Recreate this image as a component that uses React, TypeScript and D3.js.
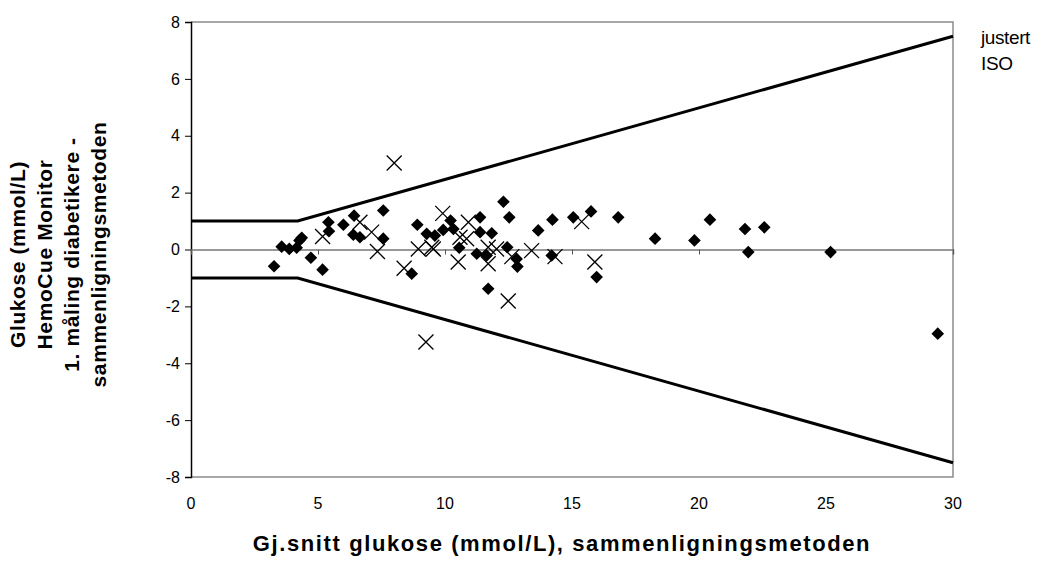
import React, { useEffect, useRef } from 'react';
import * as d3 from 'd3';

// diamonds: 1. måling diabetikere
const diaX = [3.27, 3.57, 3.87, 4.16, 4.27, 4.36, 4.72, 5.18, 5.41, 5.43, 6.0, 6.42, 6.39, 6.65, 7.57, 7.57, 8.69, 8.91, 9.28, 9.6, 9.93, 10.22, 10.33, 10.56, 11.25, 11.38, 11.38, 11.64, 11.7, 11.84, 12.3, 12.45, 12.53, 12.82, 12.85, 13.67, 14.2, 14.23, 15.05, 15.75, 15.97, 16.82, 18.27, 19.82, 20.43, 21.81, 21.94, 22.57, 25.18, 29.4];
const diaY = [-0.59, 0.1, 0.02, 0.06, 0.32, 0.41, -0.29, -0.71, 0.96, 0.64, 0.87, 1.19, 0.52, 0.43, 1.37, 0.38, -0.85, 0.87, 0.55, 0.49, 0.69, 1.02, 0.72, 0.06, -0.15, 1.13, 0.61, -0.21, -1.38, 0.57, 1.68, 0.08, 1.13, -0.33, -0.6, 0.67, -0.21, 1.05, 1.13, 1.34, -0.97, 1.13, 0.38, 0.32, 1.05, 0.72, -0.09, 0.78, -0.09, -2.96];

// crosses: second series
const crossX = [5.18, 6.65, 7.11, 7.34, 8.0, 8.39, 8.95, 9.25, 9.48, 9.54, 9.91, 10.52, 10.59, 10.85, 10.92, 11.7, 11.7, 12.03, 12.49, 12.63, 13.41, 14.33, 15.38, 15.9];
const crossY = [0.46, 0.96, 0.61, -0.07, 3.04, -0.66, 0.02, -3.25, 0.08, 0.02, 1.27, -0.44, 0.43, 0.38, 0.96, 0.08, -0.5, 0.02, -1.81, -0.25, -0.04, -0.25, 0.98, -0.44];

// "justert ISO" limits
const limitX = [0, 4.2, 30];
const limitUpper = [1, 1, 7.5];
const limitLower = [-1, -1, -7.5];

const xTicks = [0, 5, 10, 15, 20, 25, 30];
const yTicks = [-8, -6, -4, -2, 0, 2, 4, 6, 8];
const yTitle = ['Glukose (mmol/L)', 'HemoCue Monitor', '1. måling diabetikere -', 'sammenligningsmetoden'];
const xTitle = 'Gj.snitt glukose (mmol/L), sammenligningsmetoden';
const legendLines = ['justert', 'ISO'];

export default function App() {
  const svgRef = useRef<SVGSVGElement>(null);

  useEffect(() => {
    const svg = d3.select(svgRef.current);
    svg.selectAll('*').remove();
    const left = 191, right = 953, top = 22, bottom = 477;
    const x = d3.scaleLinear().domain([0, 30]).range([left, right]);
    const y = d3.scaleLinear().domain([-8, 8]).range([bottom, top]);
    const font = '"Liberation Sans", Arial, sans-serif';

    // frame
    svg.append('path')
      .attr('d', `M${left},${top}H${right}V${bottom}H${left}`)
      .attr('fill', 'none').attr('stroke', '#8c8c8c').attr('stroke-width', 1.5);

    // y axis
    const yAxis = svg.append('g').attr('transform', `translate(${left},0)`)
      .call(d3.axisLeft(y).tickValues(yTicks).tickSize(6).tickFormat((d) => String(d)));
    yAxis.select('.domain').attr('stroke', '#000').attr('stroke-width', 1.5);
    yAxis.selectAll('line').attr('stroke', '#000');
    yAxis.selectAll('text').attr('font-family', font).attr('font-size', 16).attr('fill', '#000').attr('dx', -2);

    // x axis at zero
    const xAxis = svg.append('g').attr('transform', `translate(0,${y(0)})`)
      .call(d3.axisBottom(x).tickValues(xTicks).tickSize(5).tickFormat(() => ''));
    xAxis.select('.domain').attr('stroke', '#777').attr('stroke-width', 1.5);
    xAxis.selectAll('line').attr('stroke', '#555');

    svg.append('g').selectAll('text').data(xTicks).enter().append('text')
      .attr('x', (d) => x(d)).attr('y', 509)
      .attr('text-anchor', 'middle').attr('font-family', font).attr('font-size', 16)
      .text((d) => d);

    // limit lines
    const lim = d3.line<number>().x((_, i) => x(limitX[i])).y((d) => y(d));
    [limitUpper, limitLower].forEach((arr) => {
      svg.append('path').attr('d', lim(arr)).attr('fill', 'none')
        .attr('stroke', '#000').attr('stroke-width', 3);
    });

    // diamonds
    const diamond = d3.symbol().type(d3.symbolSquare).size(80)();
    svg.append('g').selectAll('path').data(diaX).enter().append('path')
      .attr('d', diamond)
      .attr('transform', (d, i) => `translate(${x(d)},${y(diaY[i])}) rotate(45)`)
      .attr('fill', '#000');

    // crosses
    const c = 7.5;
    svg.append('g').selectAll('path').data(crossX).enter().append('path')
      .attr('d', (d, i) => {
        const cx = x(d), cy = y(crossY[i]);
        return `M${cx - c},${cy - c}L${cx + c},${cy + c}M${cx - c},${cy + c}L${cx + c},${cy - c}`;
      })
      .attr('stroke', '#000').attr('stroke-width', 1.3).attr('fill', 'none');

    // legend
    svg.append('g').selectAll('text').data(legendLines).enter().append('text')
      .attr('x', 981).attr('y', (_, i) => 44 + i * 26)
      .attr('font-family', font).attr('font-size', 19).attr('letter-spacing', -0.4)
      .text((d) => d);

    // axis titles
    svg.append('text')
      .attr('x', 562).attr('y', 551)
      .attr('text-anchor', 'middle').attr('font-family', font).attr('font-size', 22)
      .attr('font-weight', 'bold').attr('letter-spacing', 1.6)
      .text(xTitle);

    const yt = svg.append('text')
      .attr('transform', `translate(0,${(top + bottom) / 2 + 5}) rotate(-90)`)
      .attr('text-anchor', 'middle').attr('font-family', font).attr('font-size', 21)
      .attr('font-weight', 'bold').attr('letter-spacing', 0.6);
    yt.selectAll('tspan').data(yTitle).enter().append('tspan')
      .attr('x', 0).attr('y', (_, i) => 25 + i * 27)
      .text((d) => d);
  }, []);

  return (
    <svg ref={svgRef} width={1042} height={563}
      style={{ position: 'absolute', left: 0, top: 0, background: '#fff' }} />
  );
}
